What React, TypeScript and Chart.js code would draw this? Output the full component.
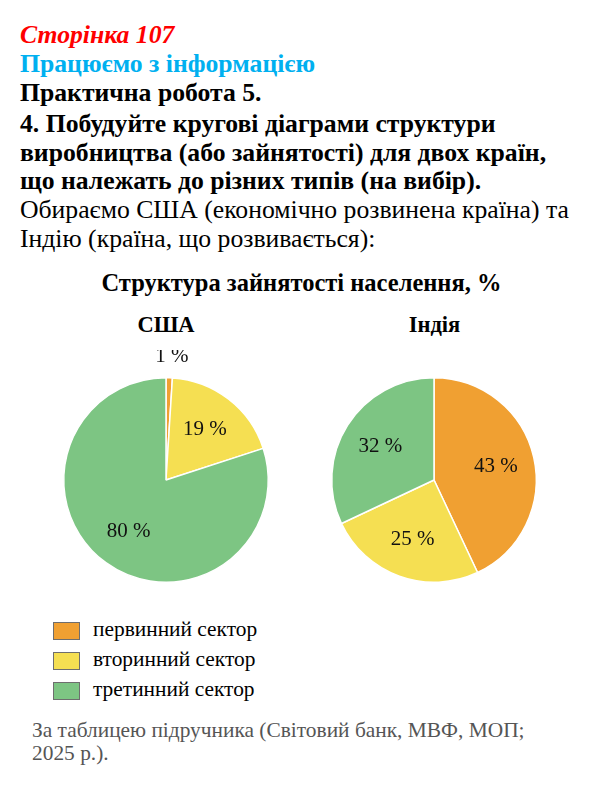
import React, { useEffect, useRef } from "react";
import { Chart, registerables } from "chart.js";

Chart.register(...registerables);

// Employment structure, %
const sectors = ["первинний сектор", "вторинний сектор", "третинний сектор"];
const usaValues = [1, 19, 80];
const indiaValues = [43, 25, 32];
const sectorColors = ["#F0A032", "#F5DF52", "#7DC583"];

const SERIF = '"Liberation Serif", "Times New Roman", serif';

// Percentage labels inside the slices (small slices get the label outside)
const sliceLabels = {
  id: "sliceLabels",
  afterDatasetsDraw(chart: any) {
    const { ctx } = chart;
    const meta = chart.getDatasetMeta(0);
    const data = chart.data.datasets[0].data as number[];
    ctx.save();
    ctx.font = `21px ${SERIF}`;
    ctx.fillStyle = "#111";
    ctx.textAlign = "center";
    ctx.textBaseline = "middle";
    meta.data.forEach((arc: any, i: number) => {
      const { x, y, startAngle, endAngle, outerRadius } = arc.getProps(
        ["x", "y", "startAngle", "endAngle", "outerRadius"],
        true
      );
      const mid = (startAngle + endAngle) / 2;
      const small = data[i] < 5;
      const r = small ? outerRadius * 1.21 : outerRadius * 0.62;
      ctx.fillText(`${data[i]} %`, x + Math.cos(mid) * r + (small ? 2 : 0), y + Math.sin(mid) * r);
    });
    ctx.restore();
  },
};

function PieChart({ values, left, top }: { values: number[]; left: number; top: number }) {
  const ref = useRef<HTMLCanvasElement>(null);
  useEffect(() => {
    if (!ref.current) return;
    const chart = new Chart(ref.current, {
      type: "pie",
      data: {
        labels: sectors,
        datasets: [
          {
            data: values,
            backgroundColor: sectorColors,
            borderColor: "#ffffff",
            borderWidth: 1.5,
          },
        ],
      },
      options: {
        responsive: false,
        animation: false,
        layout: { padding: 27 },
        plugins: {
          legend: { display: false },
          tooltip: { enabled: false },
          title: { display: false },
        },
      },
      plugins: [sliceLabels],
    });
    return () => chart.destroy();
  }, [values]);
  return (
    <canvas
      ref={ref}
      width={260}
      height={260}
      style={{ position: "absolute", left, top, width: 260, height: 260 }}
    />
  );
}

// A single text line positioned by its baseline
function Line({
  x,
  baseline,
  size,
  children,
  style,
  center,
}: {
  x: number;
  baseline: number;
  size: number;
  children: React.ReactNode;
  style?: React.CSSProperties;
  center?: boolean;
}) {
  return (
    <div
      style={{
        position: "absolute",
        left: center ? x - 300 : x,
        width: center ? 600 : undefined,
        textAlign: center ? "center" : "left",
        top: baseline - 0.8375 * size,
        fontFamily: SERIF,
        fontSize: size,
        lineHeight: `${size}px`,
        whiteSpace: "nowrap",
        color: "#000",
        ...style,
      }}
    >
      {children}
    </div>
  );
}

const BODY = 25.7;

export default function App() {
  const bold = { fontWeight: 700 };
  return (
    <div style={{ position: "absolute", left: 0, top: 0, width: 600, height: 792, background: "#fff" }}>
      <Line x={20} baseline={44} size={BODY} style={{ ...bold, fontStyle: "italic", color: "#FF0000" }}>
        Сторінка 107
      </Line>
      <Line x={20} baseline={73} size={BODY} style={{ ...bold, color: "#00B0F0" }}>
        Працюємо з інформацією
      </Line>
      <Line x={20} baseline={102} size={BODY} style={bold}>
        Практична робота 5.
      </Line>
      <Line x={20} baseline={133} size={BODY} style={bold}>
        4. Побудуйте кругові діаграми структури
      </Line>
      <Line x={20} baseline={162} size={BODY} style={bold}>
        виробництва (або зайнятості) для двох країн,
      </Line>
      <Line x={20} baseline={190} size={BODY} style={bold}>
        що належать до різних типів (на вибір).
      </Line>
      <Line x={20} baseline={219} size={BODY}>
        Обираємо США (економічно розвинена країна) та
      </Line>
      <Line x={20} baseline={248} size={BODY}>
        Індію (країна, що розвивається):
      </Line>

      <Line x={301.5} baseline={292} size={24.5} style={bold} center>
        Структура зайнятості населення, %
      </Line>
      <Line x={166} baseline={333} size={22.5} style={bold} center>
        США
      </Line>
      <Line x={434.5} baseline={333} size={22.5} style={bold} center>
        Індія
      </Line>

      <PieChart values={usaValues} left={166 - 130} top={480 - 130} />
      <PieChart values={indiaValues} left={434 - 130} top={480 - 130} />

      {sectors.map((s, i) => (
        <React.Fragment key={s}>
          <div
            style={{
              position: "absolute",
              left: 53,
              top: 622 + i * 30,
              width: 25,
              height: 16,
              background: sectorColors[i],
              border: "1.5px solid #6e6e6e",
            }}
          />
          <Line x={93} baseline={637 + i * 30} size={21.4}>
            {s}
          </Line>
        </React.Fragment>
      ))}

      <Line x={32} baseline={738} size={21.4} style={{ color: "#555" }}>
        За таблицею підручника (Світовий банк, МВФ, МОП;
      </Line>
      <Line x={32} baseline={761} size={21.4} style={{ color: "#555" }}>
        2025 р.).
      </Line>
    </div>
  );
}
